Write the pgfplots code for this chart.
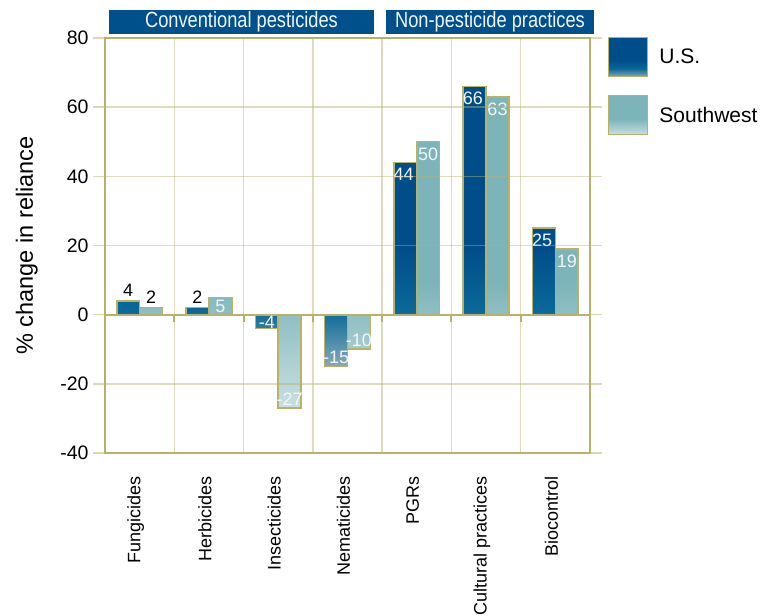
\documentclass[border=0pt]{standalone}
\usepackage{fontspec}
\setmainfont{Liberation Sans}
\newfontfamily\condfont{Liberation Sans}[FakeStretch=0.83]
\usepackage{pgfplots}
\pgfplotsset{compat=1.18}
\definecolor{usA}{HTML}{004E89}
\definecolor{usB}{HTML}{0A6898}
\definecolor{usC}{HTML}{86AABA}
\definecolor{swA}{HTML}{7DB4B9}
\definecolor{swC}{HTML}{C9DFE1}
\definecolor{framec}{HTML}{B7B26A}
\definecolor{hdr}{HTML}{00508C}
\definecolor{lbl}{HTML}{F2F6F8}
\pgfdeclareverticalshading{usgrad}{100bp}{color(0bp)=(usC); color(25bp)=(usC); color(35bp)=(usB); color(46bp)=(usA); color(100bp)=(usA)}
\pgfdeclareverticalshading{swgrad}{100bp}{color(0bp)=(swC); color(25bp)=(swC); color(45bp)=(swA); color(100bp)=(swA)}
\newcommand{\fs}[1]{\fontsize{#1}{#1}\selectfont}
\tikzset{vl/.style={font=\fs{18}, inner sep=1.5pt}, vw/.style={vl, text=lbl}}
\begin{document}
\begin{tikzpicture}
\begin{axis}[
  scale only axis, width=485pt, height=415pt,
  xmin=-0.5, xmax=6.5, ymin=-40, ymax=80,
  ybar=0pt, bar width=0.33,
  ytick={-40,-20,0,20,40,60,80},
  yticklabels={-40,-20,0,20,40,60,80},
  y tick label style={font=\fs{19.5}, xshift=-1pt},
  xtick={0,...,6},
  xticklabels={Fungicides,Herbicides,Insecticides,Nematicides,PGRs,Cultural practices,Biocontrol},
  x tick label style={rotate=90, anchor=east, font=\fs{18}, xshift=-8pt, yshift=4pt},
  major x tick style={draw=none},
  minor xtick={0.5,1.5,...,5.5},
  minor tick length=0pt,
  xminorgrids, ymajorgrids,
  major grid style={color=framec, opacity=0.45, line width=1.5pt},
  minor grid style={color=framec, opacity=0.45, line width=1.5pt},
  axis line style={color=framec, line width=2pt},
  y tick style={color=framec!50, line width=1.5pt},
  tick align=outside, major tick length=12pt,
  ylabel={\% change in reliance},
  y label style={at={(axis description cs:-0.161,0.5)}, anchor=center, font=\fs{23.5}},
  axis on top,
  legend style={at={(1,1)}, anchor=north west, xshift=18pt, yshift=1pt, draw=none, fill=none,
    font=\fs{21}, row sep=18pt, inner sep=0pt, nodes={inner sep=0pt}},
  legend cell align=left,
]
\addplot[draw=framec, line width=1.5pt, shading=usgrad,
  legend image code/.code={\draw[draw=framec, line width=1pt, shading=usgrad] (0pt,-19.5pt) rectangle (39pt,19.5pt); \path (50pt,0pt);}]
  coordinates {(0,4) (1,2) (2,-4) (3,-15) (4,44) (5,66) (6,25)};
\addlegendentry{U.S.}
\addplot[draw=framec, line width=1.5pt, shading=swgrad,
  legend image code/.code={\draw[draw=framec, line width=1pt, shading=swgrad] (0pt,-19.5pt) rectangle (39pt,19.5pt); \path (50pt,0pt);}]
  coordinates {(0,2) (1,5) (2,-27) (3,-10) (4,50) (5,63) (6,19)};
\addlegendentry{Southwest}
\draw[framec, line width=2pt] (axis cs:-0.5,0) -- (axis cs:6.5,0);
\pgfplotsinvokeforeach{0.5,1.5,2.5,3.5,4.5,5.5}{\draw[framec, line width=2pt] (axis cs:#1,0) -- ([yshift=-7pt]axis cs:#1,0);}
% value labels
\node[vl, anchor=south, yshift=3pt] at (axis cs:-0.165,4) {4};
\node[vl, anchor=south, yshift=3pt] at (axis cs:0.165,2) {2};
\node[vl, anchor=south, yshift=3pt] at (axis cs:0.835,2) {2};
\node[vw, anchor=north, yshift=-1pt] at (axis cs:1.165,5) {5};
\node[vw, anchor=center] at (axis cs:1.835,-2.2) {-4};
\node[vw, anchor=south, yshift=1pt] at (axis cs:2.165,-27) {-27};
\node[vw, anchor=south, yshift=1pt] at (axis cs:2.835,-15) {-15};
\node[vw, anchor=south, yshift=1pt] at (axis cs:3.165,-10) {-10};
\node[vw, anchor=north, yshift=-4pt] at (axis cs:3.81,44) {44};
\node[vw, anchor=north, yshift=-4pt] at (axis cs:4.165,50) {50};
\node[vw, anchor=north, yshift=-4pt] at (axis cs:4.81,66) {66};
\node[vw, anchor=north, yshift=-4pt] at (axis cs:5.165,63) {63};
\node[vw, anchor=north, yshift=-4pt] at (axis cs:5.81,25) {25};
\node[vw, anchor=north, yshift=-4pt] at (axis cs:6.165,19) {19};
\end{axis}
% group headers
\fill[hdr] (4pt,419pt) rectangle (269pt,443pt);
\node[text=lbl, font=\condfont\fs{22}, inner sep=0pt] at (136.5pt,431pt) {Conventional pesticides};
\fill[hdr] (281pt,419pt) rectangle (489pt,443pt);
\node[text=lbl, font=\condfont\fs{22}, inner sep=0pt] at (385pt,431pt) {Non-pesticide practices};
\pgfresetboundingbox
\path (-105pt,-163pt) rectangle (656pt,453pt);
\end{tikzpicture}
\end{document}
